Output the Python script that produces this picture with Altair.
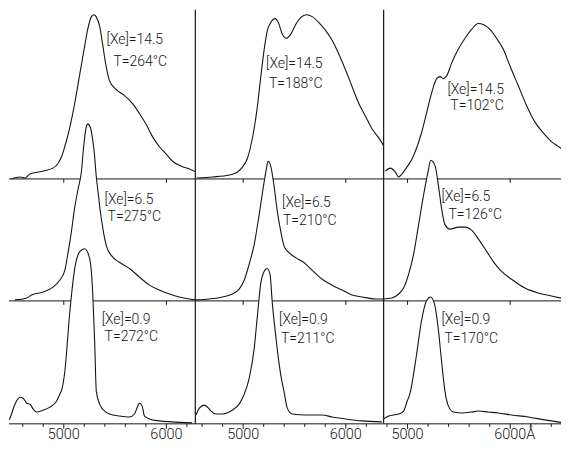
import altair as alt
import pandas as pd

# ---- spectra: wavelength (Å) and intensity above each trace's own baseline (arb. units) ----
# column 1
wl_264 = [4490, 4575, 4620, 4670, 4700, 4800, 4895, 4945, 4980, 5010, 5060, 5105, 5155, 5205, 5235,
          5270, 5295, 5315, 5350, 5380, 5410, 5445, 5510, 5590, 5675, 5740, 5805, 5865, 5930, 6000,
          6060, 6145, 6225, 6290]
I_264 = [0, 2, 1, 5, 6, 8, 11, 16, 23, 33, 53, 76, 106, 136, 153, 165, 167, 165, 155, 136, 116, 100,
         91, 85, 76, 66, 55, 43, 33, 25, 18, 13, 10, 7]
wl_275 = [4525, 4640, 4685, 4800, 4895, 4960, 5010, 5040, 5075, 5105, 5140, 5170, 5195, 5215, 5235,
          5260, 5280, 5300, 5315, 5335, 5350, 5380, 5415, 5465, 5545, 5640, 5740, 5835, 5930, 6030,
          6125, 6225, 6300]
I_275 = [1, 3, 6, 9, 14, 21, 31, 48, 71, 94, 114, 130, 158, 175, 180, 176, 165, 148, 128, 110, 96,
         74, 56, 46, 39, 33, 24, 16, 11, 7, 4, 2, 1]
wl_272 = [4466, 4476, 4524, 4573, 4605, 4638, 4670, 4702, 4735, 4799, 4864, 4929, 4961, 4981, 5010,
          5058, 5107, 5155, 5204, 5252, 5282, 5301, 5317, 5350, 5398, 5447, 5544, 5641, 5689, 5721,
          5738, 5764, 5786, 5835, 5932, 6058, 6252]
I_272 = [4, 6, 20, 27, 26, 21, 20, 15, 12, 14, 17, 23, 30, 35, 53, 113, 158, 175, 178, 168, 133, 83,
         33, 20, 13, 10, 8, 7, 10, 18, 21, 18, 8, 5, 3, 2, 1]
# column 2
wl_188 = [4547, 4702, 4864, 4945, 4993, 5042, 5075, 5107, 5139, 5172, 5204, 5236, 5269, 5311, 5343,
          5382, 5420, 5463, 5512, 5560, 5618, 5673, 5738, 5803, 5867, 5932, 5997, 6061, 6126, 6191,
          6255, 6320, 6379]
I_188 = [1, 2, 4, 7, 12, 21, 34, 51, 74, 104, 131, 151, 159, 163, 159, 147, 143, 147, 157, 164, 167,
         165, 159, 151, 141, 127, 111, 94, 77, 64, 51, 42, 32]
wl_210 = [4541, 4670, 4799, 4896, 4961, 5010, 5058, 5107, 5155, 5194, 5226, 5243, 5269, 5301, 5333,
          5366, 5398, 5447, 5512, 5592, 5673, 5770, 5867, 5964, 6061, 6158, 6288, 6369]
I_210 = [1, 2, 4, 7, 12, 21, 37, 57, 87, 114, 134, 142, 137, 117, 91, 71, 56, 49, 44, 39, 31, 22, 16,
         11, 6, 4, 2, 2]
wl_211 = [4541, 4573, 4621, 4653, 4686, 4735, 4799, 4896, 4961, 5010, 5058, 5107, 5139, 5172, 5204,
          5233, 5262, 5284, 5317, 5366, 5398, 5430, 5479, 5609, 5770, 5867, 5997, 6158, 6352]
I_211 = [9, 16, 19, 17, 13, 10, 10, 14, 20, 30, 46, 76, 110, 143, 155, 158, 152, 123, 90, 50, 33,
         16, 10, 9, 9, 7, 5, 3, 2]
# column 3
wl_102 = [4783, 4832, 4881, 4913, 4945, 4993, 5042, 5090, 5139, 5187, 5236, 5284, 5317, 5350, 5382,
          5430, 5495, 5560, 5624, 5689, 5738, 5803, 5867, 5932, 5997, 6078, 6158, 6240, 6320, 6401,
          6483, 6563]
I_102 = [8, 11, 7, 2, 5, 12, 20, 32, 48, 68, 88, 102, 104, 102, 105, 118, 132, 143, 152, 158, 157,
         152, 143, 132, 115, 95, 75, 58, 47, 38, 32, 25]
wl_126 = [4767, 4848, 4913, 4961, 5010, 5058, 5107, 5155, 5197, 5226, 5269, 5301, 5333, 5366, 5415,
          5495, 5560, 5624, 5689, 5754, 5835, 5916, 6013, 6143, 6272, 6401, 6531]
I_126 = [2, 3, 7, 13, 27, 47, 77, 107, 130, 143, 137, 117, 93, 77, 73, 75, 75, 72, 63, 53, 40, 30,
         22, 13, 8, 5, 2]
wl_170 = [4767, 4816, 4913, 4961, 4993, 5026, 5087, 5136, 5184, 5223, 5262, 5301, 5330, 5366, 5398,
          5447, 5527, 5624, 5689, 5786, 5884, 6013, 6175, 6337, 6531]
I_170 = [5, 8, 10, 13, 22, 32, 70, 105, 125, 129, 122, 95, 65, 32, 18, 12, 11, 12, 13, 12, 11, 9, 7,
         4, 1]

curves = [  # [column][row]
    [(wl_264, I_264), (wl_275, I_275), (wl_272, I_272)],
    [(wl_188, I_188), (wl_210, I_210), (wl_211, I_211)],
    [(wl_102, I_102), (wl_126, I_126), (wl_170, I_170)],
]
xe_levels = ["14.5", "6.5", "0.9"]
temps = [["264", "275", "272"], ["188", "210", "211"], ["102", "126", "170"]]
major_ticks = [5000, 6000]
minor_ticks = [4600, 4800, 5000, 5200, 5400, 5600, 5800, 6000, 6200, 6400]

# ---- layout ----
row_offsets = [249, 125, 0]
panel_domains = [(4466, 6282), (4534, 6369), (4767, 6495)]
panel_widths = [187, 189, 178]
label_pos = [  # (x of [Xe] line, y of [Xe] line, x of T line, y of T line)
    [(5417, 390, 5485, 368), (5398, 228, 5427, 210), (5369, 106, 5398, 88)],
    [(5223, 366, 5252, 346), (5379, 225, 5388, 206), (5350, 106, 5369, 86)],
    [(5388, 339, 5417, 323), (5330, 231, 5398, 212), (5330, 106, 5359, 86)],
]
Y_MIN, Y_MAX, H = -19.7, 422, 436
AXIS_LABEL_U = -11.4
INK = "#151515"
FONT = "Roboto"


def panel(c):
    lo, hi = panel_domains[c]
    xs = alt.Scale(domain=[lo, hi], nice=False, zero=False)
    ys = alt.Scale(domain=[Y_MIN, Y_MAX], nice=False, zero=False)
    X = lambda f: alt.X(f, type="quantitative", scale=xs, axis=None)
    Y = lambda f: alt.Y(f, type="quantitative", scale=ys, axis=None)
    layers = []
    for r in range(3):
        off = row_offsets[r]
        wl, inten = curves[c][r]
        df = pd.DataFrame({"wl": wl, "top": [off + v for v in inten], "base": off})
        layers.append(alt.Chart(df).mark_area(color="white", clip=True, interpolate="monotone")
                      .encode(x=X("wl"), y=Y("top"), y2="base"))
        layers.append(alt.Chart(df).mark_line(color=INK, strokeWidth=1.1, clip=True,
                                              interpolate="monotone")
                      .encode(x=X("wl"), y=Y("top")))
        # baseline of this row
        layers.append(alt.Chart(pd.DataFrame({"u": [off]})).mark_rule(color=INK, strokeWidth=1)
                      .encode(y=Y("u")))
        # ticks
        if r < 2:
            tk = pd.DataFrame({"wl": major_ticks, "u": off, "u2": off - 4})
        else:
            tks = [t for t in minor_ticks if lo < t < hi]
            tk = pd.DataFrame({"wl": tks, "u": off,
                               "u2": [off - (5 if t in major_ticks else 3) for t in tks]})
        layers.append(alt.Chart(tk).mark_rule(color=INK, strokeWidth=1)
                      .encode(x=X("wl"), y=Y("u"), y2="u2"))
    # vertical divider
    if c > 0:
        layers.append(alt.Chart(pd.DataFrame({"wl": [lo], "u": [0], "u2": [421]}))
                      .mark_rule(color=INK, strokeWidth=1.2)
                      .encode(x=X("wl"), y=Y("u"), y2="u2"))
    # trace labels
    rows = []
    for r in range(3):
        x1, y1, x2, y2 = label_pos[c][r]
        rows.append({"wl": x1, "u": y1, "label": f"[Xe]={xe_levels[r]}"})
        rows.append({"wl": x2, "u": y2, "label": f"T={temps[c][r]}°C"})
    layers.append(alt.Chart(pd.DataFrame(rows))
                  .mark_text(align="left", baseline="middle", font=FONT, fontSize=14,
                             fontWeight=300, color=INK)
                  .encode(x=X("wl"), y=Y("u"), text="label:N"))
    # axis numbers
    ax = pd.DataFrame({"wl": major_ticks, "u": AXIS_LABEL_U,
                       "label": [str(t) for t in major_ticks]})
    layers.append(alt.Chart(ax)
                  .mark_text(align="center", baseline="middle", font=FONT, fontSize=14.5,
                             fontWeight=300, color=INK)
                  .encode(x=X("wl"), y=Y("u"), text="label:N"))
    if c == 2:
        layers.append(alt.Chart(pd.DataFrame({"wl": [6000], "u": [AXIS_LABEL_U], "label": ["Å"]}))
                      .mark_text(align="left", baseline="middle", font=FONT, fontSize=14.5,
                                 fontWeight=300, color=INK, dx=16)
                      .encode(x=X("wl"), y=Y("u"), text="label:N"))
    return alt.layer(*layers).properties(width=panel_widths[c], height=H)


chart = (alt.hconcat(*[panel(c) for c in range(3)], spacing=0, bounds="flush")
         .properties(padding=0, background="white")
         .configure_view(stroke=None))

chart.save("out.html", embed_options={"renderer": "svg", "actions": False})
